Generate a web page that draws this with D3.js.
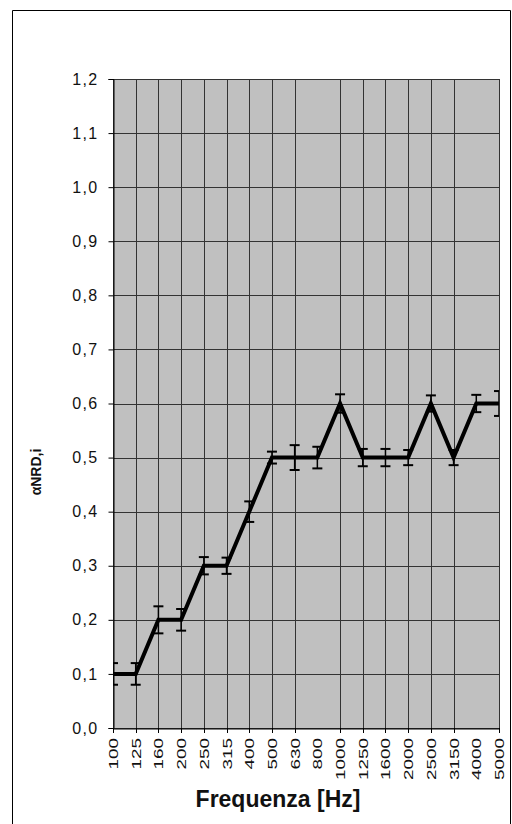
<!DOCTYPE html>
<html>
<head>
<meta charset="utf-8">
<script src="https://cdn.jsdelivr.net/npm/d3@7"></script>
<style>
  body { margin: 0; background: #fff; }
  text { font-family: "Liberation Sans", Arial, sans-serif; }
</style>
</head>
<body>
<div id="chart"></div>
<script>
'use strict';

// frequency bands (Hz)
const frequencies = ["100", "125", "160", "200", "250", "315", "400", "500", "630",
    "800", "1000", "1250", "1600", "2000", "2500", "3150", "4000", "5000"];
// alpha NRD,i per band
const alphaValues = [0.1, 0.1, 0.2, 0.2, 0.3, 0.3, 0.4, 0.5, 0.5,
    0.5, 0.6, 0.5, 0.5, 0.5, 0.6, 0.5, 0.6, 0.6];
// half length of the error bars
const alphaErrors = [0.02, 0.02, 0.025, 0.02, 0.016, 0.015, 0.019, 0.011, 0.023,
    0.02, 0.017, 0.016, 0.016, 0.014, 0.015, 0.014, 0.016, 0.023];
// bands that have a vertical gridline / tick in the picture
const gridFrequencies = ["100", "125", "160", "200", "250", "315", "400", "500", "630",
    "1000", "1250", "1600", "2000", "2500", "3150", "5000"];
const yTicks = [0, 0.1, 0.2, 0.3, 0.4, 0.5, 0.6, 0.7, 0.8, 0.9, 1.0, 1.1, 1.2];

const width = 512, height = 824;
const plot = { left: 113, right: 499, top: 79, bottom: 728 };

const svg = d3.select("#chart")
    .append("svg")
    .attr("width", width)
    .attr("height", height);

// outer chart frame
svg.append("path")
    .attr("d", "M12.5,830 V10.5 H510.5 V830")
    .attr("fill", "none")
    .attr("stroke", "#000")
    .attr("stroke-width", 1);

let xScale = d3.scalePoint()
    .domain(frequencies)
    .range([plot.left, plot.right]);
let yScale = d3.scaleLinear()
    .domain([0, 1.2])
    .range([plot.bottom, plot.top]);

// plot background
svg.append("rect")
    .attr("x", plot.left)
    .attr("y", plot.top)
    .attr("width", plot.right - plot.left)
    .attr("height", plot.bottom - plot.top)
    .attr("fill", "#c0c0c0");

svg.append("clipPath")
    .attr("id", "plotClip")
    .append("rect")
    .attr("x", plot.left)
    .attr("y", plot.top - 10)
    .attr("width", plot.right - plot.left)
    .attr("height", plot.bottom - plot.top + 20);

// gridlines
svg.append("g")
    .selectAll("line")
    .data(yTicks)
    .enter()
    .append("line")
    .attr("x1", plot.left)
    .attr("x2", plot.right)
    .attr("y1", d => Math.round(yScale(d)) + 0.5)
    .attr("y2", d => Math.round(yScale(d)) + 0.5)
    .attr("stroke", "#333")
    .attr("stroke-width", 1.2);
svg.append("g")
    .selectAll("line")
    .data(gridFrequencies)
    .enter()
    .append("line")
    .attr("x1", d => Math.round(xScale(d)) + 0.5)
    .attr("x2", d => Math.round(xScale(d)) + 0.5)
    .attr("y1", plot.top)
    .attr("y2", plot.bottom)
    .attr("stroke", "#333")
    .attr("stroke-width", 1);

// y axis
let yAxis = svg.append("g")
    .attr("transform", "translate(" + (plot.left + 0.5) + ",0)")
    .call(d3.axisLeft(yScale)
        .tickValues(yTicks)
        .tickSize(5)
        .tickPadding(10)
        .tickFormat(d => d3.format(".1f")(d).replace(".", ",")));
yAxis.select(".domain").attr("stroke", "#000");
yAxis.selectAll("line").attr("stroke", "#000");
yAxis.selectAll("text")
    .style("font-size", "16px")
    .style("letter-spacing", "1.3px")
    .attr("fill", "#111");

// x axis
let xAxis = svg.append("g")
    .attr("transform", "translate(0," + (plot.bottom + 0.5) + ")")
    .call(d3.axisBottom(xScale).tickSize(0).tickFormat(""));
xAxis.select(".domain").attr("stroke", "#000");
xAxis.selectAll(".tick").remove();
svg.append("g")
    .selectAll("line")
    .data(gridFrequencies)
    .enter()
    .append("line")
    .attr("x1", d => Math.round(xScale(d)) + 0.5)
    .attr("x2", d => Math.round(xScale(d)) + 0.5)
    .attr("y1", plot.bottom)
    .attr("y2", plot.bottom + 5)
    .attr("stroke", "#000");
svg.append("g")
    .selectAll("text")
    .data(frequencies)
    .enter()
    .append("text")
    .attr("transform", d => "translate(" + (xScale(d) + 5) + "," + (plot.bottom + 10) + ") rotate(-90) scale(1.4,1)")
    .attr("text-anchor", "end")
    .style("font-size", "13.5px")
    .attr("fill", "#111")
    .text(d => d);

// axis titles
svg.append("text")
    .attr("x", 278)
    .attr("y", 807)
    .attr("text-anchor", "middle")
    .style("font-size", "23px")
    .attr("font-weight", "bold")
    .attr("fill", "#111")
    .text("Frequenza [Hz]");
svg.append("text")
    .attr("transform", "translate(41,472) rotate(-90)")
    .attr("text-anchor", "middle")
    .style("font-size", "14px")
    .attr("font-weight", "bold")
    .attr("fill", "#111")
    .text("αNRD,i");

// data line and error bars
let marks = svg.append("g").attr("clip-path", "url(#plotClip)");
let lineGen = d3.line()
    .x((d, i) => xScale(frequencies[i]))
    .y(d => yScale(d));
marks.append("path")
    .datum(alphaValues)
    .attr("d", lineGen)
    .attr("fill", "none")
    .attr("stroke", "#000")
    .attr("stroke-width", 4)
    .attr("stroke-linejoin", "miter");

let bars = marks.selectAll("g.errorBar")
    .data(alphaValues)
    .enter()
    .append("g")
    .classed("errorBar", true);
bars.append("line")
    .attr("x1", (d, i) => xScale(frequencies[i]))
    .attr("x2", (d, i) => xScale(frequencies[i]))
    .attr("y1", (d, i) => yScale(d + alphaErrors[i]))
    .attr("y2", (d, i) => yScale(d - alphaErrors[i]))
    .attr("stroke", "#000")
    .attr("stroke-width", 1.5);
bars.append("line")
    .attr("x1", (d, i) => xScale(frequencies[i]) - 5)
    .attr("x2", (d, i) => xScale(frequencies[i]) + 5)
    .attr("y1", (d, i) => yScale(d + alphaErrors[i]))
    .attr("y2", (d, i) => yScale(d + alphaErrors[i]))
    .attr("stroke", "#000")
    .attr("stroke-width", 2);
bars.append("line")
    .attr("x1", (d, i) => xScale(frequencies[i]) - 5)
    .attr("x2", (d, i) => xScale(frequencies[i]) + 5)
    .attr("y1", (d, i) => yScale(d - alphaErrors[i]))
    .attr("y2", (d, i) => yScale(d - alphaErrors[i]))
    .attr("stroke", "#000")
    .attr("stroke-width", 2);
</script>
</body>
</html>
